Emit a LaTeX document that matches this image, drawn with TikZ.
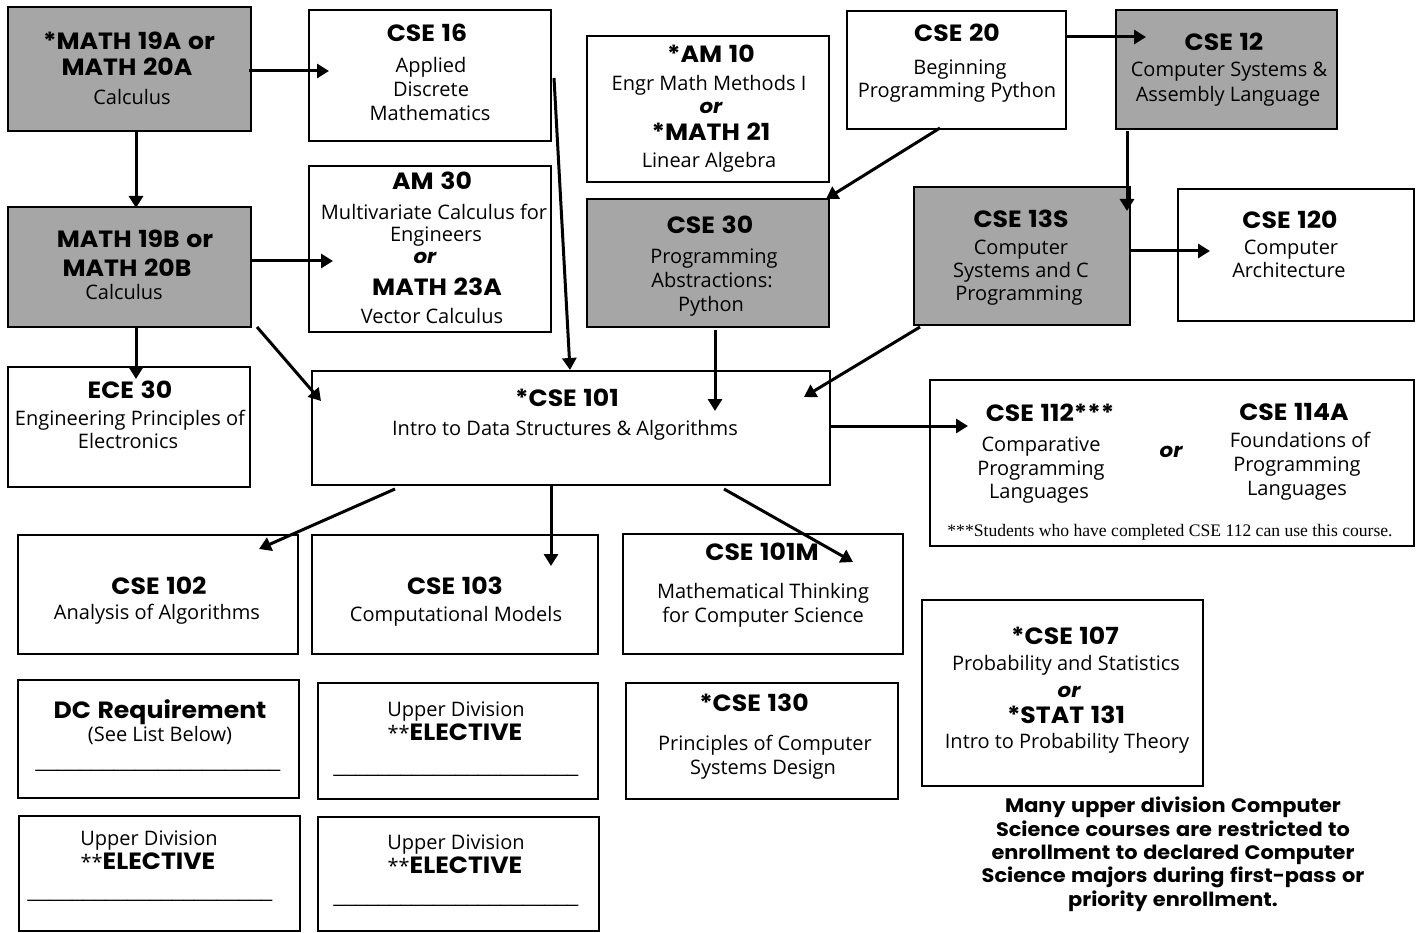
\documentclass[tikz,border=0pt]{standalone}
\usepackage{fontspec}
\setmainfont{Open Sans}
\newfontfamily\headf[FakeStretch=1.07,WordSpace=1.25]{Poppins}
\newfontfamily\notef{Liberation Serif}
\newfontfamily\linef{Liberation Sans}
\usetikzlibrary{arrows.meta,calc}
\definecolor{boxgray}{RGB}{166,166,166}
\tikzset{
 box/.style={draw=black, line width=2.5pt, inner sep=0pt, outer sep=0pt, fill=white},
 gbox/.style={box, fill=boxgray},
 hd/.style={inner sep=0pt, text height=16.5pt, text depth=0pt, font=\headf\bfseries\fontsize{23.5}{28}\selectfont},
 bd/.style={inner sep=0pt, text height=14.3pt, text depth=0pt, font=\fontsize{20}{24}\selectfont},
 ortxt/.style={inner sep=0pt, text height=14pt, text depth=0pt, font=\headf\bfseries\itshape\fontsize{20}{24}\selectfont},
 fnote/.style={inner sep=0pt, text height=12pt, text depth=0pt, font=\notef\fontsize{17.6}{21}\selectfont},
 uline/.style={inner sep=0pt, anchor=base, font=\linef\fontsize{20}{24}\selectfont},
 note/.style={inner sep=0pt, anchor=north, align=center, font=\headf\bfseries\fontsize{19.5}{23.3}\selectfont},
 arr/.style={line width=3pt, -{Triangle[length=12pt,width=14pt]}},
}
\newcommand\bx[6]{\node[#6, minimum width=#4-#2, minimum height=#5-#3] (#1) at ({(#2+#4)/2},{(#3+#5)/2}) {};}
\newcommand\tx[5]{\node[#4] (#1) at (#2,#3) {#5};}
\newcommand\ulines{\_\_\_\_\_\_\_\_\_\_\_\_\_\_\_\_\_\_\_\_\_\_}
\newcommand\elective{{\fontsize{20}{24}\selectfont **}{\headf\bfseries\fontsize{23.5}{28}\selectfont ELECTIVE}}
\begin{document}
\begin{tikzpicture}[x=1pt,y=-1pt]
\useasboundingbox (0,0) rectangle (1421,933);
\fill[white] (0,0) rectangle (1421,933);
% boxes
\bx{m19a}{8}{7}{251}{131}{gbox}
\bx{cse16}{309}{10}{551}{141}{box}
\bx{am10}{587}{36}{829}{182}{box}
\bx{cse20}{847}{11}{1066}{129}{box}
\bx{cse12}{1116}{10}{1337}{129}{gbox}
\bx{m19b}{8}{207}{251}{327}{gbox}
\bx{am30}{309}{166}{551}{332}{box}
\bx{cse30}{587}{199}{829}{327}{gbox}
\bx{cse13s}{914}{187}{1130}{325}{gbox}
\bx{cse120}{1178}{189}{1414}{321}{box}
\bx{ece30}{8}{367}{250}{487}{box}
\bx{cse101}{312}{371}{830}{485}{box}
\bx{cse112}{930}{380}{1414}{546}{box}
\bx{cse102}{18}{535}{298}{654}{box}
\bx{cse103}{312}{535}{598}{654}{box}
\bx{cse101m}{623}{534}{903}{654}{box}
\bx{cse107}{922}{600}{1203}{786}{box}
\bx{dc}{18}{680}{299}{798}{box}
\bx{ud1}{318}{683}{598}{799}{box}
\bx{cse130}{626}{683}{898}{799}{box}
\bx{ud2}{19}{816}{300}{931}{box}
\bx{ud3}{318}{817}{599}{931}{box}
% texts
\tx{m19a1}{129}{41}{hd}{*MATH 19A or}
\tx{m19a2}{127}{67}{hd}{MATH 20A}
\tx{m19a3}{132}{97}{bd}{Calculus}
\tx{cse16a}{427}{33}{hd}{CSE 16}
\tx{cse16b}{431}{65}{bd}{Applied}
\tx{cse16c}{431}{89}{bd}{Discrete}
\tx{cse16d}{430}{113}{bd}{Mathematics}
\tx{am10a}{711}{54}{hd}{*AM 10}
\tx{am10b}{709}{83}{bd}{Engr Math Methods I}
\tx{am10c}{711}{107}{ortxt}{or}
\tx{am10d}{711}{132}{hd}{*MATH 21}
\tx{am10e}{709}{160}{bd}{Linear Algebra}
\tx{cse20a}{957}{33}{hd}{CSE 20}
\tx{cse20b}{960}{67}{bd}{Beginning}
\tx{cse20c}{957}{90}{bd}{Programming Python}
\tx{cse12a}{1224}{42}{hd}{CSE 12}
\tx{cse12b}{1229}{69}{bd}{Computer Systems \&}
\tx{cse12c}{1228}{94}{bd}{Assembly Language}
\tx{m19b1}{135}{239}{hd}{MATH 19B or}
\tx{m19b2}{127}{268}{hd}{MATH 20B}
\tx{m19b3}{124}{292}{bd}{Calculus}
\tx{am30a}{432}{181}{hd}{AM 30}
\tx{am30b}{434}{212}{bd}{Multivariate Calculus for}
\tx{am30c}{436}{234}{bd}{Engineers}
\tx{am30d}{425}{257}{ortxt}{or}
\tx{am30e}{437}{287}{hd}{MATH 23A}
\tx{am30f}{432}{316}{bd}{Vector Calculus}
\tx{cse30a}{710}{225}{hd}{CSE 30}
\tx{cse30b}{714}{256}{bd}{Programming}
\tx{cse30c}{712}{280}{bd}{Abstractions:}
\tx{cse30d}{711}{304}{bd}{Python}
\tx{cse13a}{1021}{219}{hd}{CSE 13S}
\tx{cse13b}{1021}{247}{bd}{Computer}
\tx{cse13c}{1021}{270}{bd}{Systems and C}
\tx{cse13d}{1019}{293}{bd}{Programming}
\tx{cse120a}{1290}{220}{hd}{CSE 120}
\tx{cse120b}{1291}{247}{bd}{Computer}
\tx{cse120c}{1289}{270}{bd}{Architecture}
\tx{ece30a}{130}{390}{hd}{ECE 30}
\tx{ece30b}{130}{418}{bd}{Engineering Principles of}
\tx{ece30c}{128}{441}{bd}{Electronics}
\tx{cse101a}{567}{398}{hd}{*CSE 101}
\tx{cse101b}{565}{428}{bd}{Intro to Data Structures \& Algorithms}
\tx{cse112a}{1050}{413}{hd}{CSE 112***}
\tx{cse112b}{1041}{444}{bd}{Comparative}
\tx{cse112c}{1041}{468}{bd}{Programming}
\tx{cse112d}{1039}{491}{bd}{Languages}
\tx{cse112or}{1171}{450}{ortxt}{or}
\tx{cse114a}{1294}{412}{hd}{CSE 114A}
\tx{cse114b}{1300}{440}{bd}{Foundations of}
\tx{cse114c}{1297}{464}{bd}{Programming}
\tx{cse114d}{1297}{488}{bd}{Languages}
\tx{cse112fn}{1170}{530}{fnote}{***Students who have completed CSE 112 can use this course.}
\tx{cse102a}{159}{586}{hd}{CSE 102}
\tx{cse102b}{157}{612}{bd}{Analysis of Algorithms}
\tx{cse103a}{455}{586}{hd}{CSE 103}
\tx{cse103b}{456}{614}{bd}{Computational Models}
\tx{cse101ma}{762}{552}{hd}{CSE 101M}
\tx{cse101mb}{763}{591}{bd}{Mathematical Thinking}
\tx{cse101mc}{763}{615}{bd}{for Computer Science}
\tx{cse107a}{1065}{636}{hd}{*CSE 107}
\tx{cse107b}{1066}{663}{bd}{Probability and Statistics}
\tx{cse107c}{1069}{690}{ortxt}{or}
\tx{cse107d}{1066}{715}{hd}{*STAT 131}
\tx{cse107e}{1067}{741}{bd}{Intro to Probability Theory}
\tx{dca}{160}{710}{hd}{DC Requirement}
\tx{dcb}{160}{734}{bd}{(See List Below)}
\tx{dcc}{158}{767}{uline}{\ulines}
\tx{ud1a}{456}{709}{bd}{Upper Division}
\tx{ud1b}{455}{733}{bd}{\elective}
\tx{ud1c}{456}{772}{uline}{\ulines}
\tx{cse130a}{754}{703}{hd}{*CSE 130}
\tx{cse130b}{765}{743}{bd}{Principles of Computer}
\tx{cse130c}{763}{767}{bd}{Systems Design}
\tx{ud2a}{149}{838}{bd}{Upper Division}
\tx{ud2b}{148}{862}{bd}{\elective}
\tx{ud2c}{150}{897}{uline}{\ulines}
\tx{ud3a}{456}{842}{bd}{Upper Division}
\tx{ud3b}{455}{866}{bd}{\elective}
\tx{ud3c}{456}{902}{uline}{\ulines}
\node[note] (note) at (1173,797) {Many upper division Computer\\Science courses are restricted to\\enrollment to declared Computer\\Science majors during first-pass or\\priority enrollment.};
% arrows
\draw[arr] ($(m19a.east)+(-2,2)$) -- ($(cse16.west)+(20,-4.5)$);
\draw[arr] ($(m19a.south)+(6.5,0)$) -- ($(m19b.north)+(6.5,1)$);
\draw[arr] ($(m19b.east)+(1,-6)$) -- ($(am30.west)+(24,12)$);
\draw[arr] ($(m19b.south)+(6.5,0)$) -- ($(ece30.north)+(7,12)$);
\draw[arr] ($(m19b.south east)+(6,0)$) -- ($(cse101.north west)+(9,30)$);
\draw[arr] ($(cse16.north east)+(3,68)$) -- ($(cse101.north west)+(258,-1)$);
\draw[arr] ($(cse20.south west)+(93,-1)$) -- ($(cse30.north east)+(-3,0)$);
\draw[arr] ($(cse20.east)+(0,-33)$) -- ($(cse12.west)+(30,-32.5)$);
\draw[arr] ($(cse12.south west)+(11,2)$) -- ($(cse13s.north east)+(-3,24)$);
\draw[arr] ($(cse13s.east)+(0,-5)$) -- ($(cse120.west)+(32,-4)$);
\draw[arr] ($(cse30.south)+(7,3)$) -- ($(cse101.north)+(144,40)$);
\draw[arr] ($(cse13s.south west)+(6,2)$) -- ($(cse101.north east)+(-26,26)$);
\draw[arr] ($(cse101.east)+(0,-2)$) -- ($(cse112.west)+(38,-37)$);
\draw[arr] ($(cse101.south west)+(83,4)$) -- ($(cse102.north west)+(241,14)$);
\draw[arr] ($(cse101.south west)+(239,1)$) -- ($(cse103.north west)+(239,31)$);
\draw[arr] ($(cse101.south west)+(412,4)$) -- ($(cse101m.north west)+(230,28)$);
\end{tikzpicture}
\end{document}
